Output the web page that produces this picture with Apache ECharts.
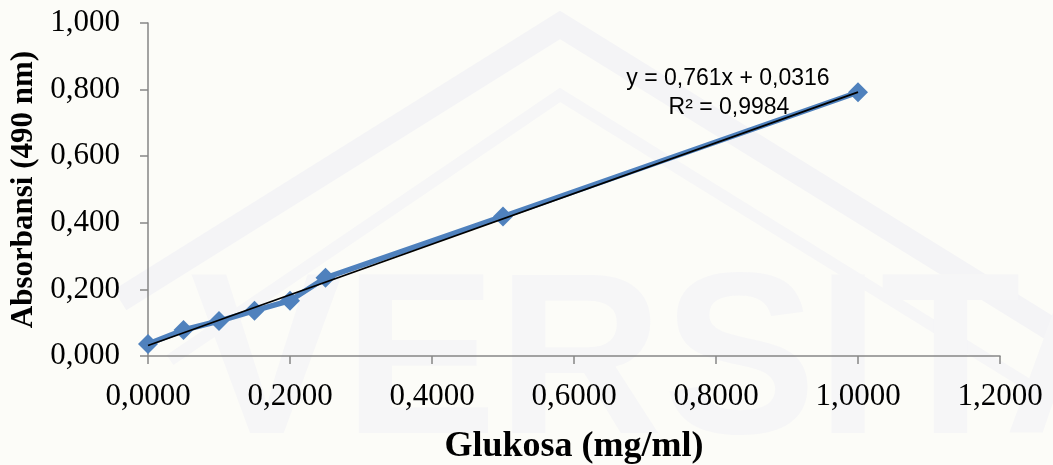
<!DOCTYPE html>
<html>
<head>
<meta charset="utf-8">
<script src="https://cdn.jsdelivr.net/npm/echarts@6/dist/echarts.min.js"></script>
<style>
  html, body { margin: 0; padding: 0; background: #fcfcf8; }
  #chart { width: 1053px; height: 465px; }
</style>
</head>
<body>
<div id="chart"></div>
<script>
// Glucose standard curve: absorbance at 490 nm
const glukosa = [0, 0.05, 0.10, 0.15, 0.20, 0.25, 0.50, 1.00];
const absorbansi = [0.036, 0.078, 0.105, 0.136, 0.166, 0.235, 0.419, 0.792];
// linear trendline  y = slope * x + intercept
const trend = { slope: 0.761, intercept: 0.0316, r2: 0.9984 };
const trendRange = [0, 1.0];

const fmt = (v, d) => v.toFixed(d).replace('.', ',');
const trendData = trendRange.map(x => [x, trend.slope * x + trend.intercept]);

const serif = 'Liberation Serif';
const chart = echarts.init(document.getElementById('chart'));
chart.setOption({
  backgroundColor: '#fcfcf8',
  animation: false,
  grid: { left: 148, right: 53, top: 23, bottom: 109, containLabel: false, outerBoundsMode: 'none' },
  xAxis: {
    type: 'value', min: 0, max: 1.2, interval: 0.2,
    name: 'Glukosa (mg/ml)', nameLocation: 'middle', nameGap: 73,
    nameTextStyle: { fontFamily: serif, fontWeight: 'bold', fontSize: 36, color: '#000' },
    axisLine: { lineStyle: { color: '#868686', width: 1.5 } },
    axisTick: { show: true, length: 8, lineStyle: { color: '#868686', width: 1.5 } },
    axisLabel: { formatter: v => fmt(v, 4), fontFamily: serif, fontSize: 31, color: '#000', margin: 25 },
    splitLine: { show: false }
  },
  yAxis: {
    type: 'value', min: 0, max: 1.0, interval: 0.2,
    name: 'Absorbansi (490 nm)', nameLocation: 'middle', nameGap: 104, nameRotate: 90,
    nameTextStyle: { fontFamily: serif, fontWeight: 'bold', fontSize: 31, color: '#000' },
    axisLine: { show: true, lineStyle: { color: '#868686', width: 1.5 } },
    axisTick: { show: true, length: 8, lineStyle: { color: '#868686', width: 1.5 } },
    axisLabel: { formatter: v => fmt(v, 3), fontFamily: serif, fontSize: 31, color: '#000', margin: 28 },
    splitLine: { show: false }
  },
  series: [
    {
      type: 'line', data: glukosa.map((x, i) => [x, absorbansi[i]]),
      symbol: 'diamond', symbolSize: 20,
      lineStyle: { color: '#4f81bd', width: 5.5 },
      itemStyle: { color: '#4f81bd' },
      z: 2
    },
    {
      type: 'line', data: trendData, symbol: 'none',
      lineStyle: { color: '#000', width: 1.8 },
      z: 3
    }
  ],
  graphic: [
    // faint emblem in the background
    {
      type: 'polyline', silent: true, z: -10,
      shape: { points: [[120, 300], [560, 25], [1053, 330]] },
      style: { stroke: '#f4f4f6', lineWidth: 24, fill: null }
    },
    {
      type: 'polyline', silent: true, z: -10,
      shape: { points: [[170, 360], [560, 95], [1053, 400]] },
      style: { stroke: '#f6f6f7', lineWidth: 12, fill: null }
    },
    {
      type: 'text', silent: true, z: -10, left: 190, top: 255,
      style: { text: 'VERSITA', font: 'bold 230px "Liberation Sans"', fill: '#f6f6f7' }
    },
    {
      type: 'text', x: 728, y: 67, z: 10,
      style: { text: 'y = ' + fmt(trend.slope, 3) + 'x + ' + fmt(trend.intercept, 4), font: '23px "Liberation Sans"', fill: '#000', align: 'center' }
    },
    {
      type: 'text', x: 729, y: 96, z: 10,
      style: { text: 'R² = ' + fmt(trend.r2, 4), font: '23px "Liberation Sans"', fill: '#000', align: 'center' }
    }
  ]
});
</script>
</body>
</html>
